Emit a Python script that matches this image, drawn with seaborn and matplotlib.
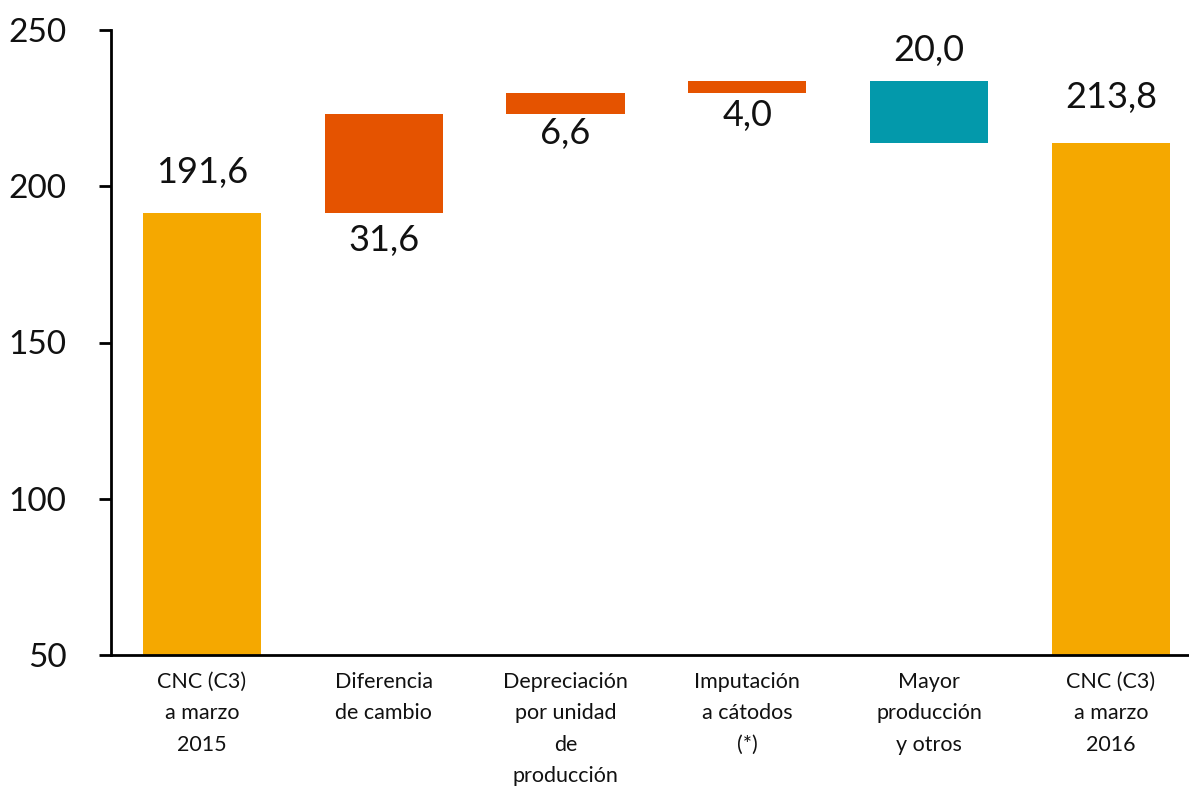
import matplotlib
matplotlib.use("Agg")
import matplotlib.pyplot as plt
import seaborn as sns
import pandas as pd
import numpy as np

# waterfall data
categories = ["CNC (C3)\na marzo\n2015", "Diferencia\nde cambio",
              "Depreciación\npor unidad\nde\nproducción", "Imputación\na cátodos\n(*)",
              "Mayor\nproducción\ny otros", "CNC (C3)\na marzo\n2016"]
starts = [0.0, 191.6, 223.2, 229.8, 233.8, 0.0]
ends = [191.6, 223.2, 229.8, 233.8, 213.8, 213.8]
labels = ["191,6", "31,6", "6,6", "4,0", "20,0", "213,8"]
kinds = ["total", "up", "up", "up", "down", "total"]

colors = {"total": "#F5A800", "up": "#E55300", "down": "#0399AB"}
# label offsets in pixels (positive = above)
label_px = [40, -28, -20, -22, 30, 46]

df = pd.DataFrame({"cat": categories, "start": starts, "end": ends, "kind": kinds})
df["low"] = df[["start", "end"]].min(axis=1)
df["high"] = df[["start", "end"]].max(axis=1)
df["size"] = df["high"] - df["low"]

sns.set_theme(style="white")
plt.rcParams["font.family"] = ["Lato", "DejaVu Sans"]

fig = plt.figure(figsize=(11.89, 7.89), dpi=100)
ax = fig.add_axes([111 / 1189, 134 / 789, 1 - 111 / 1189, (655 - 30) / 789])

sns.barplot(data=df, x="cat", y="size", bottom=df["low"].values, width=0.65,
            color="#F5A800", ax=ax, saturation=1)
for patch, kind in zip(ax.patches, df["kind"]):
    patch.set_facecolor(colors[kind])
    patch.set_edgecolor("none")

for i, row in df.iterrows():
    off = label_px[i] * 0.72
    if off > 0:
        y = row["high"]
    else:
        y = row["low"]
    ax.annotate(labels[i], (i, y), xytext=(0, off), textcoords="offset points",
                ha="center", va="center", fontsize=26, color="#111111")

ax.set_ylim(50, 250)
ax.set_xlim(-0.5, 5.43)
ax.set_yticks([50, 100, 150, 200, 250])
ax.set_xlabel("")
ax.set_ylabel("")
sns.despine(ax=ax, top=True, right=True)
for s in ["left", "bottom"]:
    ax.spines[s].set_color("black")
    ax.spines[s].set_linewidth(2)
ax.tick_params(axis="y", which="major", direction="out", length=9, width=2,
               color="black", labelsize=24, pad=23, left=True, labelcolor="#111111")
ax.tick_params(axis="x", length=0, labelsize=15.5, pad=12, labelcolor="#111111")
for t in ax.get_xticklabels():
    t.set_linespacing(1.72)
    t.set_verticalalignment("top")

fig.savefig("out.png", dpi=100)
